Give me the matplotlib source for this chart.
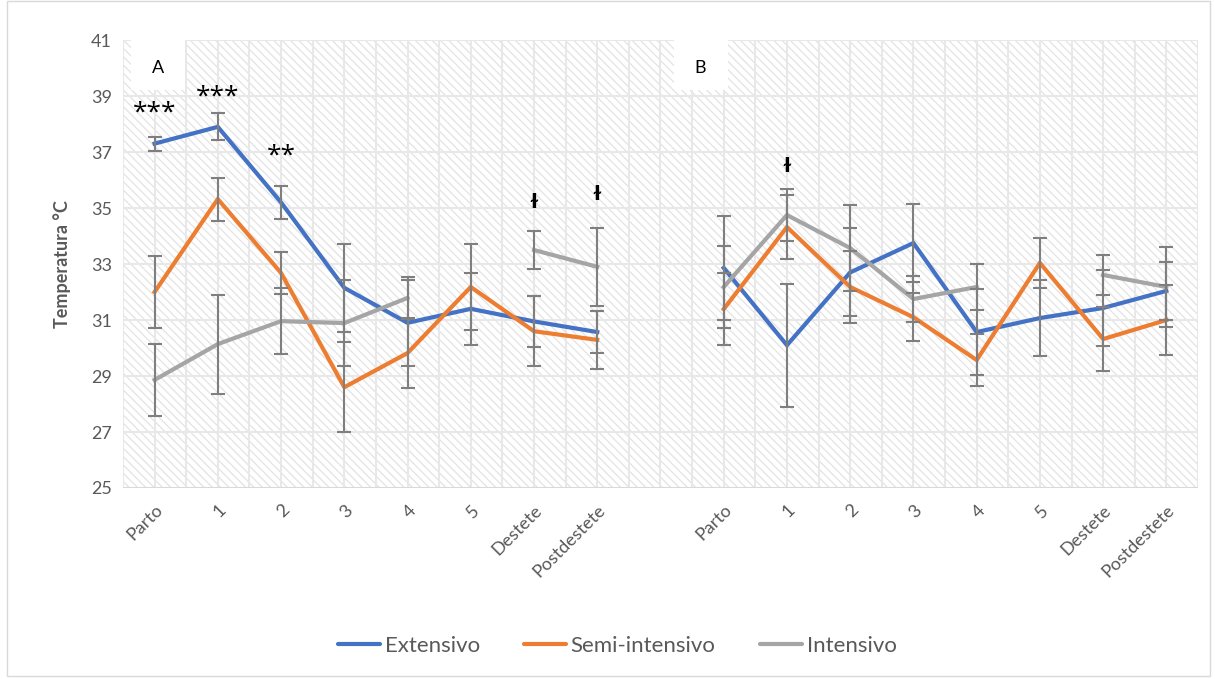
import numpy as np
import matplotlib
matplotlib.use("Agg")
import matplotlib.pyplot as plt
from matplotlib.patches import Rectangle
from matplotlib.lines import Line2D

plt.rcParams['font.family'] = ['Lato', 'DejaVu Sans']
plt.rcParams['hatch.linewidth'] = 0.9

categories = ["Parto", "1", "2", "3", "4", "5", "Destete", "Postdestete", "",
              "Parto", "1", "2", "3", "4", "5", "Destete", "Postdestete"]
nan = np.nan
extensivo = [37.3, 37.9, 35.2, 32.15, 30.9, 31.4, 30.95, 30.57, nan,
             32.86, 30.1, 32.7, 33.75, 30.57, 31.07, 31.43, 32.04]
extensivo_err = [0.25, 0.48, 0.6, 1.57, 1.53, 1.29, 0.9, 0.75, nan,
                 1.85, 2.2, 1.57, 1.4, 1.55, 1.35, 1.36, 1.04]
semi = [32.0, 35.32, 32.68, 28.6, 29.82, 32.18, 30.6, 30.29, nan,
        31.39, 34.32, 32.18, 31.1, 29.57, 33.04, 30.32, 31.0]
semi_err = [1.27, 0.77, 0.75, 1.6, 1.25, 1.55, 1.25, 1.05, nan,
            1.3, 1.15, 1.28, 0.85, 0.93, 0.88, 1.13, 1.25]
intensivo = [28.86, 30.14, 30.96, 30.89, 31.79, nan, 33.5, 32.9, nan,
             32.18, 34.75, 33.57, 31.75, 32.18, nan, 32.61, 32.18]
intensivo_err = [1.28, 1.77, 1.17, 1.55, 0.75, nan, 0.68, 1.4, nan,
                 1.46, 0.93, 1.55, 0.82, 0.82, nan, 0.7, 1.42]
annotations = [(0, 38.4, "***"), (1, 38.95, "***"), (2, 36.85, "**"),
               (6, 35.2, "ɫ"), (7, 35.5, "ɫ"), (10, 36.5, "ɫ")]
panel_labels = [(0.05, "A"), (8.63, "B")]

fig = plt.figure(figsize=(12.15, 6.79), dpi=100)
fig.patches.append(Rectangle((0.006, 0.004), 0.99, 0.994, transform=fig.transFigure,
                             fill=False, edgecolor="#d9d9d9", linewidth=1))
ax = fig.add_axes([0.1012, 0.2813, 0.8848, 0.6597])
x = np.arange(len(categories))
ax.set_xlim(-0.5, len(categories) - 0.5)
ax.set_ylim(25, 41)

# hatched background
ax.add_patch(Rectangle((0, 0), 1, 1, transform=ax.transAxes, facecolor="white",
                       edgecolor="#e3e3e3", hatch="\\\\\\\\", linewidth=0, zorder=0))
# grid
for gx in np.arange(-0.5, len(categories), 0.5):
    ax.axvline(gx, color="#e8e8e8", lw=1.5, zorder=0.5)
for gy in range(27, 42, 2):
    ax.axhline(gy, color="#e8e8e8", lw=1.5, zorder=0.5)
ax.axhline(25, color="#d9d9d9", lw=1.5, zorder=0.6)

colors = ["#4472C4", "#ED7D31", "#A5A5A5"]
names = ["Extensivo", "Semi-intensivo", "Intensivo"]
series = [(extensivo, extensivo_err), (semi, semi_err), (intensivo, intensivo_err)]
for (vals, errs), c in zip(series, colors):
    v = np.array(vals, dtype=float)
    e = np.array(errs, dtype=float)
    ax.plot(x, v, color=c, lw=3, zorder=3, solid_joinstyle="miter")
    ax.errorbar(x, v, yerr=e, fmt="none", ecolor="#7f7f7f", elinewidth=1.5,
                capsize=5, capthick=1.5, zorder=4)

for xi, yi, t in annotations:
    if "*" in t:
        ax.text(xi, yi, t, ha="center", va="center", fontsize=19,
                color="black", family=["Open Sans"], zorder=6)
    else:
        ax.text(xi, yi, t, ha="center", va="center", fontsize=14, color="black",
                family=["DejaVu Sans"], fontweight="bold", zorder=6)

for xi, lab in panel_labels:
    ax.add_patch(Rectangle((xi - 0.42, 39.22), 0.85, 1.78, facecolor="white",
                           edgecolor="none", zorder=5))
    ax.text(xi, 40.0, lab, ha="center", va="center", fontsize=13, zorder=6)

ax.set_xticks(x)
ax.set_xticklabels(categories, rotation=45, ha="right", rotation_mode="anchor",
                   fontsize=13, color="#595959")
ax.set_yticks(range(25, 42, 2))
ax.tick_params(axis="y", labelsize=13, labelcolor="#595959", length=0, pad=8)
ax.tick_params(axis="x", length=0, pad=10)
for s in ax.spines.values():
    s.set_visible(False)
ax.set_ylabel("Temperatura °C", fontsize=13, fontweight="bold", color="#595959", labelpad=14)

handles = [Line2D([0], [0], color=c, lw=3, solid_capstyle="round") for c in colors]
fig.legend(handles, names, loc="center", bbox_to_anchor=(0.508, 0.049), ncol=3,
           frameon=False, fontsize=16, labelcolor="#595959", handlelength=1.9,
           handletextpad=0.2, columnspacing=2.0)

fig.savefig("out.png", dpi=100)
